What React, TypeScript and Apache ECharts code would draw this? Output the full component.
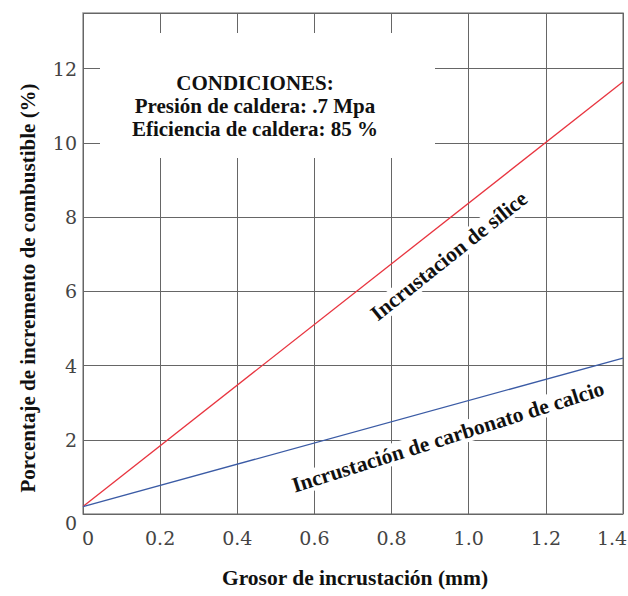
import React, { useEffect, useRef } from "react";
import * as echarts from "echarts";

const xTicks = [0, 0.2, 0.4, 0.6, 0.8, 1.0, 1.2, 1.4];
const yTicks = [0, 2, 4, 6, 8, 10, 12];
const siliceX = [0, 1.4];
const siliceY = [0.2, 11.65];
const carbonatoX = [0, 1.4];
const carbonatoY = [0.2, 4.2];
const siliceLabel = "Incrustacion de sílice";
const carbonatoLabel = "Incrustación de carbonato de calcio";
const condiciones = ["CONDICIONES:", "Presión de caldera: .7 Mpa", "Eficiencia de caldera: 85 %"];
const xName = "Grosor de incrustación (mm)";
const yName = "Porcentaje de incremento de combustible (%)";

const serif = "'Liberation Serif', serif";
const tickFont = "'DejaVu Serif', serif";

export default function App() {
  const ref = useRef<HTMLDivElement>(null);
  useEffect(() => {
    if (!ref.current) return;
    const chart = echarts.init(ref.current, undefined, { renderer: "svg" });
    const deg = Math.PI / 180;
    const tickRich = { fontFamily: tickFont, fontSize: 19, color: "#444" };
    chart.setOption({
      animation: false,
      backgroundColor: "#fff",
      grid: {
        left: 83,
        right: 5,
        top: 13,
        bottom: 82,
        outerBoundsMode: "none",
        containLabel: false,
        show: true,
        borderColor: "#999",
        borderWidth: 1.5,
        backgroundColor: "transparent",
      },
      xAxis: {
        type: "value",
        min: 0,
        max: 1.4,
        interval: 0.2,
        axisLine: { show: false },
        axisTick: { show: false },
        splitLine: { show: true, lineStyle: { color: "#666", width: 1 } },
        axisLabel: {
          margin: 14,
          fontFamily: tickFont,
          fontSize: 19,
          color: "#444",
          formatter: (v: number) => {
            const t = xTicks.find((k) => Math.abs(k - v) < 1e-6);
            if (t === undefined) return "";
            if (t === 0) return "{z|0}";
            if (Math.abs(t - 1.4) < 1e-6) return "{e|" + t.toFixed(1) + "}";
            return t.toFixed(1);
          },
          rich: {
            z: { ...tickRich, padding: [0, 0, 0, 10] },
            e: { ...tickRich, padding: [0, 22, 0, 0] },
          },
        },
      },
      yAxis: {
        type: "value",
        min: 0,
        max: 13.5,
        interval: 2,
        axisLine: { show: false },
        axisTick: { show: false },
        splitLine: { show: true, lineStyle: { color: "#666", width: 1 } },
        axisLabel: {
          margin: 6,
          fontFamily: tickFont,
          fontSize: 19,
          color: "#444",
          formatter: (v: number) => {
            if (yTicks.indexOf(v) < 0) return "";
            return v === 0 ? "{z|0}" : String(v);
          },
          rich: { z: { ...tickRich, padding: [18, 0, 0, 0] } },
        },
      },
      series: [
        {
          type: "line",
          name: siliceLabel,
          data: siliceX.map((x, i) => [x, siliceY[i]]),
          showSymbol: false,
          lineStyle: { color: "#e8343f", width: 1.3 },
          z: 5,
        },
        {
          type: "line",
          name: carbonatoLabel,
          data: carbonatoX.map((x, i) => [x, carbonatoY[i]]),
          showSymbol: false,
          lineStyle: { color: "#3b5ba5", width: 1.3 },
          z: 5,
        },
      ],
      graphic: [
        {
          type: "rect",
          shape: { x: 100, y: 33, width: 335, height: 125 },
          style: { fill: "#fff" },
          z: 3,
        },
        {
          type: "text",
          x: 255,
          y: 106,
          z: 4,
          style: {
            text: condiciones.join("\n"),
            fontFamily: serif,
            fontWeight: "bold",
            fontSize: 21,
            lineHeight: 23,
            fill: "#111",
            align: "center",
            verticalAlign: "middle",
          },
        },
        {
          type: "text",
          x: 449,
          y: 256,
          rotation: 38.5 * deg,
          z: 4,
          style: {
            text: siliceLabel,
            fontFamily: serif,
            fontWeight: "bold",
            fontSize: 21.5,
            fill: "#111",
            align: "center",
            verticalAlign: "middle",
            backgroundColor: "#fff",
            padding: [0, 4],
          },
        },
        {
          type: "text",
          x: 448,
          y: 437,
          rotation: 17.5 * deg,
          z: 4,
          style: {
            text: carbonatoLabel,
            fontFamily: serif,
            fontWeight: "bold",
            fontSize: 21.5,
            fill: "#111",
            align: "center",
            verticalAlign: "middle",
            backgroundColor: "#fff",
            padding: [0, 4],
          },
        },
        {
          type: "text",
          x: 355,
          y: 578,
          z: 4,
          style: {
            text: xName,
            fontFamily: serif,
            fontWeight: "bold",
            fontSize: 21.5,
            fill: "#111",
            align: "center",
            verticalAlign: "middle",
          },
        },
        {
          type: "text",
          x: 28,
          y: 288,
          rotation: 90 * deg,
          z: 4,
          style: {
            text: yName,
            fontFamily: serif,
            fontWeight: "bold",
            fontSize: 21,
            fill: "#111",
            align: "center",
            verticalAlign: "middle",
          },
        },
      ],
    });
    return () => chart.dispose();
  }, []);
  return <div ref={ref} style={{ width: 628, height: 596, position: "absolute", left: 0, top: 0 }} />;
}
